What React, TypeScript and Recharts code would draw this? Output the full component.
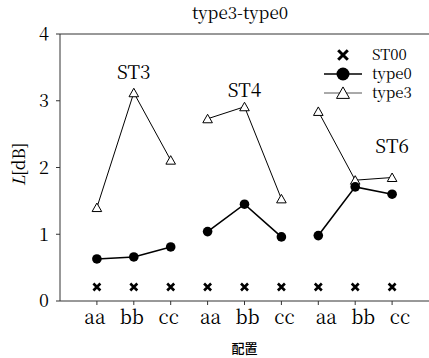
import { ComposedChart, Line, Scatter, XAxis, YAxis, ReferenceLine } from "recharts";

const categories = ["aa", "bb", "cc", "aa", "bb", "cc", "aa", "bb", "cc"];
const groups = ["ST3", "ST4", "ST6"];
const type0Values = [0.63, 0.66, 0.81, 1.04, 1.45, 0.96, 0.98, 1.71, 1.6];
const type3Values = [1.4, 3.12, 2.11, 2.73, 2.91, 1.53, 2.84, 1.81, 1.85];
const st00Values = [0.21, 0.21, 0.21, 0.21, 0.21, 0.21, 0.21, 0.21, 0.21];
const groupLabelX = [1, 4, 8];
const groupLabelY = [3.45, 3.19, 2.34];
const yTicks = [0, 1, 2, 3, 4];

const serif = "'Noto Serif CJK JP', 'Noto Serif', serif";

// one slice per group so lines don't connect across groups
const groupData = (vals: number[], g: number) =>
  vals.slice(g * 3, g * 3 + 3).map((v, i) => ({ x: g * 3 + i, v }));

const st00Data = st00Values.map((v, i) => ({ x: i, v }));
const labelData = groups.map((name, i) => ({ x: groupLabelX[i], v: groupLabelY[i], name }));

const Circle = (p: any) => <circle cx={p.cx} cy={p.cy} r={p.rad ?? 4.8} fill="#000" />;
const Tri = (p: any) => {
  const s = p.s ?? 1;
  return (
    <path
      d={`M${p.cx},${p.cy - 4.5 * s}L${p.cx + 4.8 * s},${p.cy + 4 * s}L${p.cx - 4.8 * s},${p.cy + 4 * s}Z`}
      fill="#fff"
      stroke="#000"
      strokeWidth={1}
    />
  );
};
const Cross = (p: any) => {
  const h = p.h ?? 3.5;
  return (
    <path
      d={`M${p.cx - h},${p.cy - h}L${p.cx + h},${p.cy + h}M${p.cx + h},${p.cy - h}L${p.cx - h},${p.cy + h}`}
      stroke="#000"
      strokeWidth={p.w ?? 2.6}
    />
  );
};
const GroupText = (p: any) => (
  <text x={p.cx} y={p.cy} textAnchor="middle" dominantBaseline="central" fontFamily={serif} fontSize={19} fill="#000">
    {p.payload.name}
  </text>
);

const XTick = (p: any) => {
  const i = p.payload.value;
  const shift = Math.floor(i / 3) * 5 - 2;
  return (
    <text x={p.x + shift} y={p.y + 17} textAnchor="middle" fontFamily={serif} fontSize={19} fill="#000">
      {categories[i]}
    </text>
  );
};

const YLabel = (p: any) => {
  const vb = p.viewBox;
  const cx = 25;
  const cy = vb.y + vb.height / 2 - 3;
  return (
    <text x={cx} y={cy} transform={`rotate(-90 ${cx} ${cy})`} textAnchor="middle" fontFamily={serif} fontSize={17} fill="#000">
      <tspan fontStyle="italic">L</tspan>[dB]
    </text>
  );
};

const Overlay = () => (
  <svg width={429} height={358} style={{ position: "absolute", left: 0, top: 0, pointerEvents: "none" }}>
    <text x={240} y={19} textAnchor="middle" fontFamily={serif} fontSize={17} fill="#000">type3-type0</text>
    <g transform="translate(324,46)">
      <Cross cx={19} cy={9} h={4.8} w={3} />
      <text x={48} y={14} fontFamily={serif} fontSize={15}>ST00</text>
      <line x1={0} x2={38} y1={28} y2={28} stroke="#000" strokeWidth={1.5} />
      <Circle cx={19} cy={28} rad={6.5} />
      <text x={48} y={33} fontFamily={serif} fontSize={15}>type0</text>
      <line x1={0} x2={38} y1={47} y2={47} stroke="#555" strokeWidth={1} />
      <Tri cx={19} cy={47} s={1.35} />
      <text x={48} y={52} fontFamily={serif} fontSize={15}>type3</text>
    </g>
  </svg>
);

export default function App() {
  return (
    <div style={{ position: "absolute", left: 0, top: 0, width: 429, height: 358, background: "#fff", overflow: "hidden" }}>
      <ComposedChart width={429} height={358} margin={{ top: 34, right: 0, bottom: 0, left: 0 }}>
        <XAxis
          type="number"
          dataKey="x"
          domain={[-1, 9]}
          ticks={[0, 1, 2, 3, 4, 5, 6, 7, 8]}
          allowDataOverflow
          height={57}
          stroke="#333"
          tickSize={4}
          tick={<XTick />}
          label={{ value: "配置", position: "insideBottom", offset: 5, fontFamily: "'Noto Sans CJK JP'", fontWeight: 500, fontSize: 13, fill: "#000" }}
        />
        <YAxis
          type="number"
          dataKey="v"
          domain={[0, 4]}
          ticks={yTicks}
          width={60}
          stroke="#333"
          tickSize={4}
          tickMargin={7}
          tick={{ fontFamily: serif, fontSize: 18, fill: "#000" }}
          label={<YLabel />}
        />
        <ReferenceLine y={4} stroke="#333" />
        {groups.map((g, gi) => (
          <Line
            key={"t3" + g}
            data={groupData(type3Values, gi)}
            dataKey="v"
            stroke="#000"
            strokeWidth={1}
            dot={<Tri />}
            activeDot={false}
            isAnimationActive={false}
            legendType="none"
          />
        ))}
        {groups.map((g, gi) => (
          <Line
            key={"t0" + g}
            data={groupData(type0Values, gi)}
            dataKey="v"
            stroke="#000"
            strokeWidth={1.6}
            dot={<Circle />}
            activeDot={false}
            isAnimationActive={false}
            legendType="none"
          />
        ))}
        <Scatter data={st00Data} dataKey="v" shape={<Cross />} isAnimationActive={false} legendType="none" />
        <Scatter data={labelData} dataKey="v" shape={<GroupText />} isAnimationActive={false} legendType="none" />
      </ComposedChart>
      <Overlay />
    </div>
  );
}
